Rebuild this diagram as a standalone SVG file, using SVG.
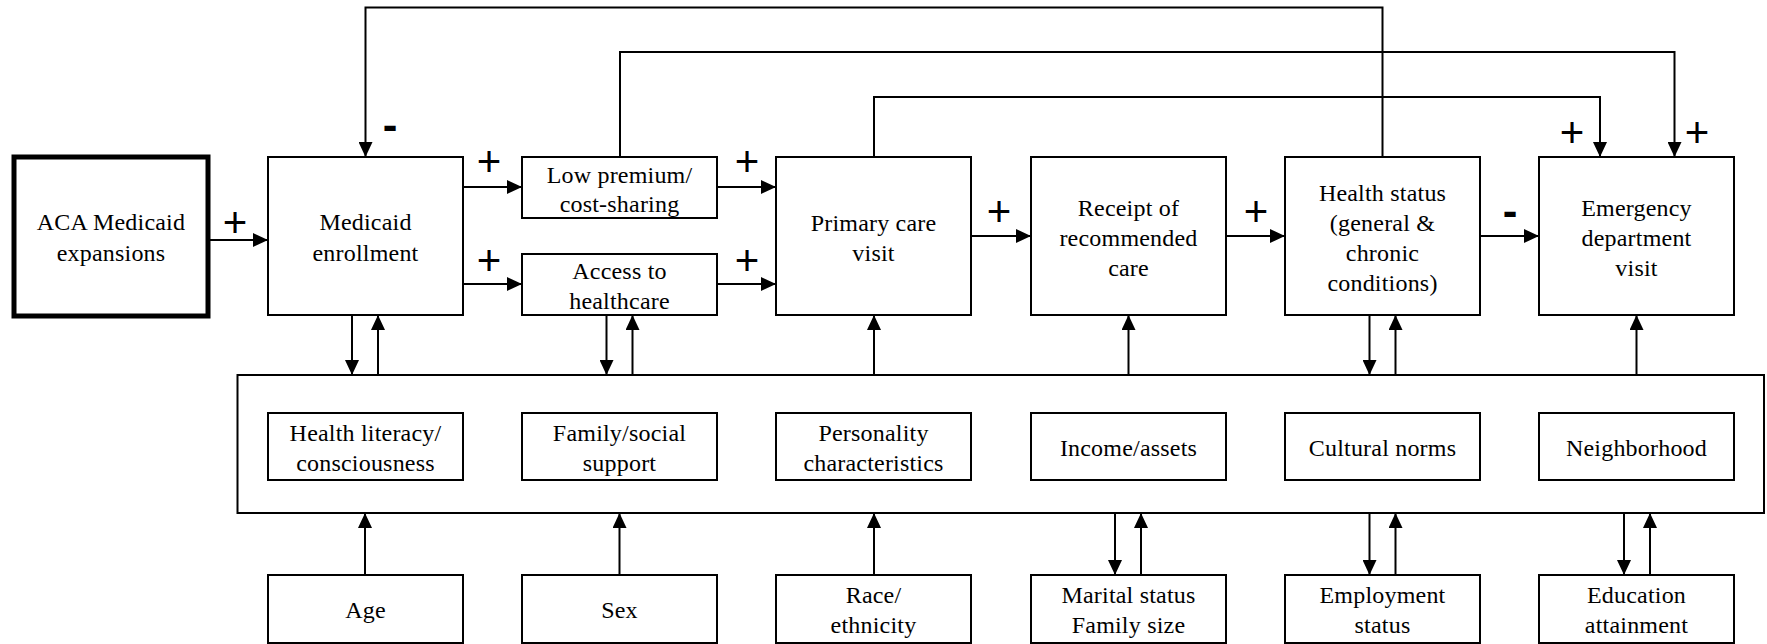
<svg xmlns="http://www.w3.org/2000/svg" width="1767" height="644" viewBox="0 0 1767 644">
<style>
.box{fill:#fff;stroke:#000;stroke-width:2}
.thick{fill:#fff;stroke:#000;stroke-width:5}
.t{font-family:"Liberation Serif","Times New Roman","DejaVu Serif",serif;font-size:24px;letter-spacing:0.2px;text-anchor:middle;fill:#000}
.c{fill:none;stroke:#000;stroke-width:2}
.s{font-family:"Liberation Sans",Arial,sans-serif;font-size:42px;text-anchor:middle;fill:#000}
.m{font-family:"Liberation Sans",Arial,sans-serif;font-size:44px;font-weight:bold;text-anchor:middle;fill:#000}
</style>
<defs>
<marker id="a" markerUnits="userSpaceOnUse" markerWidth="15" markerHeight="14" refX="15" refY="7" orient="auto"><path d="M0,0 L15,7 L0,14 z" fill="#000"/></marker>
</defs>
<rect width="1767" height="644" fill="#fff"/>
<g id="connectors">
<path class="c" marker-end="url(#a)" d="M210,240 H268"/>
<path class="c" marker-end="url(#a)" d="M463,187 H522"/>
<path class="c" marker-end="url(#a)" d="M463,284 H522"/>
<path class="c" marker-end="url(#a)" d="M717,187 H776"/>
<path class="c" marker-end="url(#a)" d="M717,284 H776"/>
<path class="c" marker-end="url(#a)" d="M971,236 H1031"/>
<path class="c" marker-end="url(#a)" d="M1226,236 H1285"/>
<path class="c" marker-end="url(#a)" d="M1480,236 H1539"/>
<path class="c" marker-end="url(#a)" d="M1382.5,157 V7.5 H365.5 V157"/>
<path class="c" marker-end="url(#a)" d="M620,157 V52 H1674.5 V157"/>
<path class="c" marker-end="url(#a)" d="M874,157 V97 H1600 V157"/>
<path class="c" marker-end="url(#a)" d="M352,315 V375"/>
<path class="c" marker-end="url(#a)" d="M378,375 V315"/>
<path class="c" marker-end="url(#a)" d="M606.5,315 V375"/>
<path class="c" marker-end="url(#a)" d="M632.5,375 V315"/>
<path class="c" marker-end="url(#a)" d="M874,375 V315"/>
<path class="c" marker-end="url(#a)" d="M1128.5,375 V315"/>
<path class="c" marker-end="url(#a)" d="M1369.5,315 V375"/>
<path class="c" marker-end="url(#a)" d="M1395.5,375 V315"/>
<path class="c" marker-end="url(#a)" d="M1636.5,375 V315"/>
<path class="c" marker-end="url(#a)" d="M365,575 V513"/>
<path class="c" marker-end="url(#a)" d="M619.5,575 V513"/>
<path class="c" marker-end="url(#a)" d="M874,575 V513"/>
<path class="c" marker-end="url(#a)" d="M1115,513 V575"/>
<path class="c" marker-end="url(#a)" d="M1141,575 V513"/>
<path class="c" marker-end="url(#a)" d="M1369.5,513 V575"/>
<path class="c" marker-end="url(#a)" d="M1395.5,575 V513"/>
<path class="c" marker-end="url(#a)" d="M1624,513 V575"/>
<path class="c" marker-end="url(#a)" d="M1650,575 V513"/>
</g>
<g id="signs">
<text class="s" x="235" y="237">+</text>
<text class="s" x="489" y="176">+</text>
<text class="s" x="489" y="275">+</text>
<text class="s" x="747" y="176">+</text>
<text class="s" x="747" y="275">+</text>
<text class="s" x="999" y="226">+</text>
<text class="s" x="1256" y="226">+</text>
<text class="s" x="1572" y="147">+</text>
<text class="s" x="1697" y="147">+</text>
<text class="m" x="390" y="140">-</text>
<text class="m" x="1510" y="226">-</text>
</g>
<g id="aca"><rect class="thick" x="14" y="157" width="194" height="159"/><text class="t" x="111" y="230">ACA Medicaid</text><text class="t" x="111" y="261">expansions</text></g>
<g id="medicaid"><rect class="box" x="268" y="157" width="195" height="158"/><text class="t" x="365.5" y="230">Medicaid</text><text class="t" x="365.5" y="261">enrollment</text></g>
<g id="premium"><rect class="box" x="522" y="157" width="195" height="61"/><text class="t" x="619.5" y="182.5">Low premium/</text><text class="t" x="619.5" y="212">cost-sharing</text></g>
<g id="access"><rect class="box" x="522" y="254" width="195" height="61"/><text class="t" x="619.5" y="279">Access to</text><text class="t" x="619.5" y="308.5">healthcare</text></g>
<g id="primary"><rect class="box" x="776" y="157" width="195" height="158"/><text class="t" x="873.5" y="231">Primary care</text><text class="t" x="873.5" y="261">visit</text></g>
<g id="receipt"><rect class="box" x="1031" y="157" width="195" height="158"/><text class="t" x="1128.5" y="216">Receipt of</text><text class="t" x="1128.5" y="246">recommended</text><text class="t" x="1128.5" y="276">care</text></g>
<g id="health"><rect class="box" x="1285" y="157" width="195" height="158"/><text class="t" x="1382.5" y="201">Health status</text><text class="t" x="1382.5" y="231">(general &amp;</text><text class="t" x="1382.5" y="261">chronic</text><text class="t" x="1382.5" y="291">conditions)</text></g>
<g id="ed"><rect class="box" x="1539" y="157" width="195" height="158"/><text class="t" x="1636.5" y="216">Emergency</text><text class="t" x="1636.5" y="246">department</text><text class="t" x="1636.5" y="276">visit</text></g>
<g id="factors"><rect class="box" x="237.5" y="375" width="1526.5" height="138"/></g>
<g id="literacy"><rect class="box" x="268" y="413" width="195" height="67"/><text class="t" x="365.5" y="441">Health literacy/</text><text class="t" x="365.5" y="471">consciousness</text></g>
<g id="family"><rect class="box" x="522" y="413" width="195" height="67"/><text class="t" x="619.5" y="441">Family/social</text><text class="t" x="619.5" y="471">support</text></g>
<g id="personality"><rect class="box" x="776" y="413" width="195" height="67"/><text class="t" x="873.5" y="441">Personality</text><text class="t" x="873.5" y="471">characteristics</text></g>
<g id="income"><rect class="box" x="1031" y="413" width="195" height="67"/><text class="t" x="1128.5" y="456">Income/assets</text></g>
<g id="cultural"><rect class="box" x="1285" y="413" width="195" height="67"/><text class="t" x="1382.5" y="456">Cultural norms</text></g>
<g id="neighborhood"><rect class="box" x="1539" y="413" width="195" height="67"/><text class="t" x="1636.5" y="456">Neighborhood</text></g>
<g id="age"><rect class="box" x="268" y="575" width="195" height="68"/><text class="t" x="365.5" y="618">Age</text></g>
<g id="sex"><rect class="box" x="522" y="575" width="195" height="68"/><text class="t" x="619.5" y="618">Sex</text></g>
<g id="race"><rect class="box" x="776" y="575" width="195" height="68"/><text class="t" x="873.5" y="603">Race/</text><text class="t" x="873.5" y="633">ethnicity</text></g>
<g id="marital"><rect class="box" x="1031" y="575" width="195" height="68"/><text class="t" x="1128.5" y="603">Marital status</text><text class="t" x="1128.5" y="633">Family size</text></g>
<g id="employment"><rect class="box" x="1285" y="575" width="195" height="68"/><text class="t" x="1382.5" y="603">Employment</text><text class="t" x="1382.5" y="633">status</text></g>
<g id="education"><rect class="box" x="1539" y="575" width="195" height="68"/><text class="t" x="1636.5" y="603">Education</text><text class="t" x="1636.5" y="633">attainment</text></g>
</svg>
